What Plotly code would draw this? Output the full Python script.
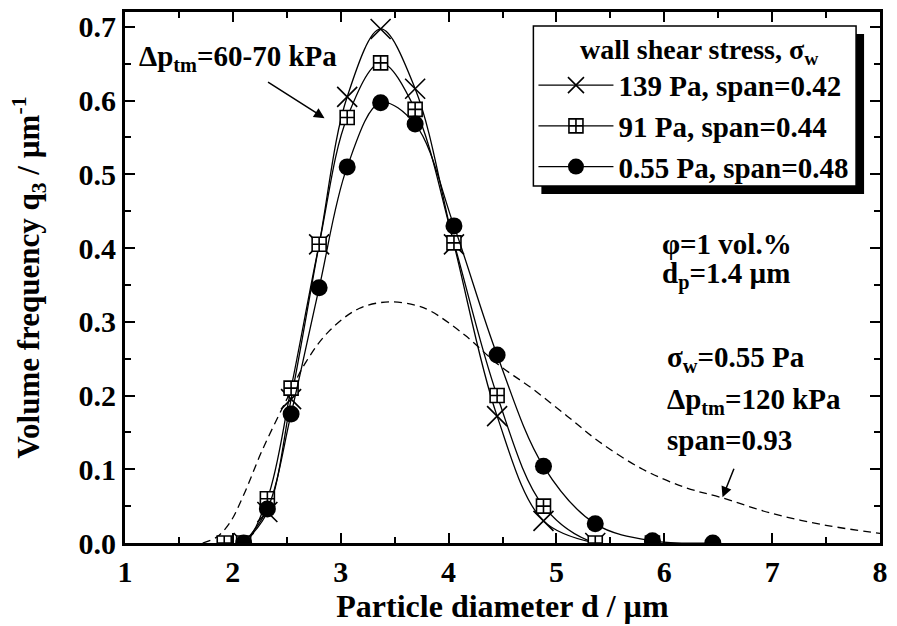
import plotly.graph_objects as go

# ---- data ----
d_139 = [2.10, 2.32, 2.54, 2.80, 3.06, 3.37, 3.69, 4.05, 4.45, 4.88, 5.36]
q_139 = [0.0, 0.042, 0.195, 0.405, 0.605, 0.697, 0.616, 0.405, 0.172, 0.030, 0.0]

d_91 = [1.92, 2.10, 2.32, 2.54, 2.80, 3.06, 3.37, 3.69, 4.05, 4.45, 4.88, 5.36, 5.89]
q_91 = [0.0, 0.0, 0.060, 0.210, 0.405, 0.577, 0.651, 0.588, 0.407, 0.200, 0.050, 0.0, 0.0]

d_055 = [2.10, 2.32, 2.54, 2.80, 3.06, 3.37, 3.69, 4.05, 4.45, 4.88, 5.36, 5.89, 6.45]
q_055 = [0.0, 0.046, 0.175, 0.346, 0.510, 0.597, 0.568, 0.430, 0.255, 0.104, 0.026, 0.003, 0.0]

d_ref = [1.72, 1.85, 1.97, 2.10, 2.27, 2.50, 2.68, 2.89, 3.17, 3.45, 3.70, 3.84,
         4.15, 4.46, 4.77, 5.10, 5.40, 5.80, 6.20, 6.52, 7.00, 7.50, 8.00]
q_ref = [0.0, 0.008, 0.027, 0.065, 0.125, 0.195, 0.246, 0.287, 0.318, 0.327, 0.322, 0.314,
         0.282, 0.242, 0.210, 0.172, 0.137, 0.100, 0.075, 0.062, 0.040, 0.024, 0.013]

names = ["139 Pa, span=0.42", "91 Pa, span=0.44", "0.55 Pa, span=0.48"]
legend_title = "wall shear stress, σ<sub>w</sub>"

FONT = "Liberation Serif"
FS = 29

fig = go.Figure()

fig.add_trace(go.Scatter(x=d_ref, y=q_ref, mode="lines", showlegend=False,
                         line=dict(color="black", width=1.3, dash="8px,5px", shape="spline")))

fig.add_trace(go.Scatter(x=d_139, y=q_139, mode="lines+markers", name=names[0],
                         line=dict(color="black", width=1.3, shape="spline"),
                         marker=dict(symbol="x-thin", size=20, color="black",
                                     line=dict(color="black", width=1.6))))
fig.add_trace(go.Scatter(x=d_91, y=q_91, mode="lines+markers", name=names[1],
                         line=dict(color="black", width=1.3, shape="spline"),
                         marker=dict(symbol="square-cross", size=14, color="white",
                                     line=dict(color="black", width=1.6))))
fig.add_trace(go.Scatter(x=d_055, y=q_055, mode="lines+markers", name=names[2],
                         line=dict(color="black", width=1.3, shape="spline"),
                         marker=dict(symbol="circle", size=17, color="black",
                                     line=dict(color="black", width=0))))

axis_common = dict(showline=True, linecolor="black", linewidth=3, mirror="allticks",
                   ticks="inside", ticklen=10, tickwidth=2, tickcolor="black",
                   showgrid=False, zeroline=False,
                   tickfont=dict(family=FONT, size=30, color="black", weight="bold"))

fig.update_xaxes(range=[1, 8], dtick=1, tick0=1,
                 minor=dict(dtick=0.5, ticks="inside", ticklen=6, tickwidth=2, tickcolor="black"),
                 title=dict(text="Particle diameter d / µm", standoff=0,
                            font=dict(family=FONT, size=32, color="black", weight="bold")),
                 **axis_common)
fig.update_yaxes(range=[0, 0.72], dtick=0.1, tick0=0, tickformat=".1f",
                 minor=dict(dtick=0.05, ticks="inside", ticklen=6, tickwidth=2, tickcolor="black"),
                 title=dict(text="Volume frequency q<sub>3</sub> / µm<sup>-1</sup>", standoff=30,
                            font=dict(family=FONT, size=31, color="black", weight="bold")),
                 **axis_common)

ann_font = dict(family=FONT, size=FS, color="black", weight="bold")
texts = [
    ("Δp<sub>tm</sub>=60-70 kPa", 1.11, 0.657),
    ("φ=1 vol.%", 5.96, 0.405),
    ("d<sub>p</sub>=1.4 µm", 5.96, 0.363),
    ("σ<sub>w</sub>=0.55 Pa", 6.01, 0.250),
    ("Δp<sub>tm</sub>=120 kPa", 6.01, 0.192),
    ("span=0.93", 6.01, 0.139),
]
for t, x, y in texts:
    fig.add_annotation(text=t, x=x, y=y, xref="x", yref="y", xanchor="left", yanchor="middle",
                       showarrow=False, font=ann_font)

# arrows
fig.add_annotation(x=2.85, y=0.576, xref="x", yref="y", ax=-58, ay=-37, text="",
                   showarrow=True, arrowhead=2, arrowsize=1.4, arrowwidth=1.5, arrowcolor="black")
fig.add_annotation(x=6.54, y=0.062, xref="x", yref="y", ax=12, ay=-30, text="",
                   showarrow=True, arrowhead=2, arrowsize=1.4, arrowwidth=1.5, arrowcolor="black")

# legend frame with drop shadow
fig.add_shape(type="rect", xref="paper", yref="paper", x0=0.5515, x1=0.9789, y0=0.6573, y1=0.9588,
              fillcolor="black", line=dict(width=0), layer="above")
fig.add_shape(type="rect", xref="paper", yref="paper", x0=0.5409, x1=0.9683, y0=0.6723, y1=0.9738,
              fillcolor="white", line=dict(color="black", width=1.5), layer="above")
fig.add_annotation(text=legend_title, xref="paper", yref="paper", x=0.761, y=0.926,
                   xanchor="center", yanchor="middle", showarrow=False,
                   font=dict(family=FONT, size=28, color="black", weight="bold"))

fig.update_layout(
    width=897, height=626,
    margin=dict(l=125, r=14, t=9, b=83),
    plot_bgcolor="white", paper_bgcolor="white",
    font=dict(family=FONT, size=FS, color="black", weight="bold"),
    legend=dict(x=0.541, y=0.910, xanchor="left", yanchor="top",
                bgcolor="rgba(0,0,0,0)", borderwidth=0,
                itemwidth=75, tracegroupgap=0,
                font=dict(family=FONT, size=FS, color="black", weight="bold")),
)

fig.write_html("out.html")
